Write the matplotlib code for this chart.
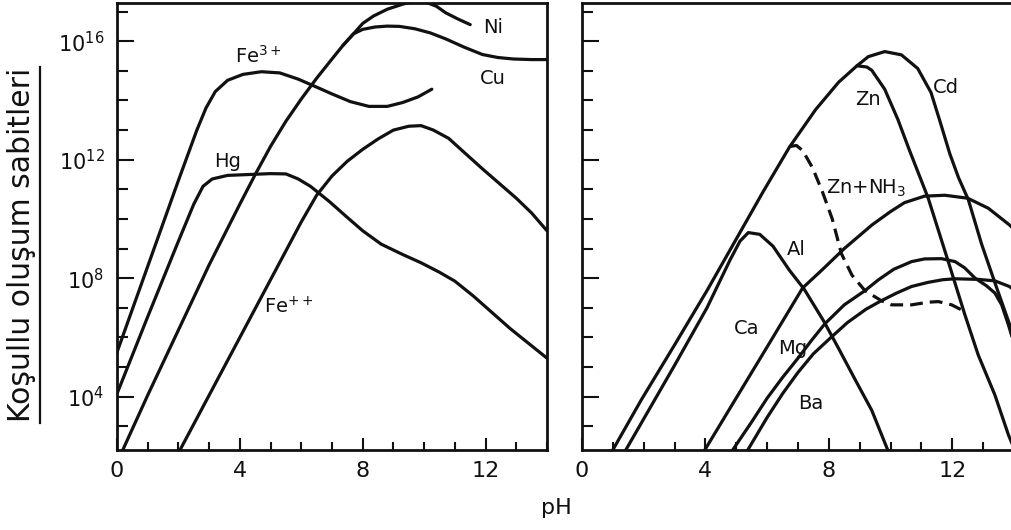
import matplotlib.pyplot as plt
from matplotlib.lines import Line2D
from matplotlib.ticker import FixedLocator, MultipleLocator, NullFormatter, LogFormatterMathtext
import numpy as np

# pH against log10 of the conditional formation constant
# left panel
fe3_ph = [0, 1, 2, 2.6, 2.9, 3.2, 3.6, 4.1, 4.7, 5.3, 5.9, 6.5, 7.0, 7.6, 8.2, 8.8, 9.3, 9.8, 10.25]
fe3_logk = [5.5, 8.4, 11.3, 13.0, 13.75, 14.3, 14.68, 14.88, 14.97, 14.93, 14.72, 14.45, 14.22, 13.96, 13.8, 13.8, 13.93, 14.12, 14.38]

hg_ph = [0, 1, 2, 2.5, 2.8, 3.1, 3.6, 4.3, 5.0, 5.5, 5.9, 6.3, 6.9, 7.5, 8.0, 8.6, 9.3, 9.9, 10.5, 11.0, 11.6, 12.2, 12.8, 13.4, 14.0]
hg_logk = [4.1, 6.7, 9.25, 10.5, 11.1, 11.35, 11.47, 11.5, 11.53, 11.52, 11.35, 11.1, 10.6, 10.05, 9.6, 9.15, 8.8, 8.52, 8.2, 7.9, 7.4, 6.85, 6.3, 5.8, 5.3]

cu_ph = [0.1, 1, 2, 3, 4, 4.5, 5, 5.5, 6, 6.5, 7.0, 7.35, 7.7, 8.0, 8.4, 8.8, 9.2, 9.7, 10.2, 10.7, 11.3, 11.9, 12.4, 12.9, 13.5, 14.0]
cu_logk = [2.0, 4.05, 6.25, 8.45, 10.5, 11.5, 12.45, 13.3, 14.05, 14.75, 15.4, 15.85, 16.25, 16.4, 16.48, 16.51, 16.5, 16.42, 16.28, 16.08, 15.8, 15.55, 15.45, 15.4, 15.38, 15.38]

ni_ph = [7.35, 7.7, 8.0, 8.35, 8.8, 9.3, 9.7, 10.1, 10.4, 10.7, 11.1, 11.5]
ni_logk = [15.85, 16.25, 16.6, 16.85, 17.08, 17.25, 17.35, 17.3, 17.18, 16.96, 16.75, 16.56]

fe2_ph = [2.0, 3, 4, 5, 6, 6.5, 7.0, 7.5, 8.0, 8.5, 9.0, 9.5, 9.9, 10.3, 10.8, 11.3, 11.9, 12.5, 13.0, 13.5, 14.0]
fe2_logk = [2.1, 4.05, 6.0, 7.95, 9.9, 10.8, 11.45, 11.95, 12.35, 12.7, 13.0, 13.13, 13.15, 13.0, 12.72, 12.25, 11.69, 11.15, 10.7, 10.2, 9.6]

# right panel
zn_ph = [0.91, 1.92, 2.99, 4.05, 4.96, 5.87, 6.72, 7.57, 8.32, 8.91, 9.23, 9.39, 9.81, 10.24, 10.6, 11.22, 11.87, 12.41, 12.84, 13.38, 13.82, 14.1]
zn_logk = [2.04, 3.89, 5.73, 7.58, 9.25, 10.92, 12.42, 13.69, 14.62, 15.17, 15.13, 15.02, 14.38, 13.35, 12.35, 10.7, 8.56, 6.76, 5.41, 4.06, 2.71, 2.0]

cd_ph = [8.91, 9.28, 9.81, 10.35, 10.88, 11.31, 11.6, 11.92, 12.2, 12.52, 12.95, 13.38, 13.82, 14.0]
cd_logk = [15.17, 15.48, 15.65, 15.54, 15.08, 14.27, 13.3, 12.2, 11.4, 10.65, 9.15, 7.85, 6.55, 6.0]

znnh3_ph = [6.75, 6.95, 7.15, 7.47, 7.79, 8.11, 8.41, 8.75, 9.17, 9.7, 10.03, 10.68, 11.22, 11.55, 11.98, 12.3, 12.41]
znnh3_logk = [12.45, 12.48, 12.31, 11.73, 10.92, 10.0, 8.82, 8.1, 7.58, 7.24, 7.1, 7.1, 7.19, 7.21, 7.1, 6.93, 6.76]

al_ph = [1.33, 2.99, 4.05, 4.8, 5.12, 5.39, 5.76, 6.19, 6.72, 7.2, 7.84, 8.32, 8.85, 9.39, 9.97]
al_logk = [2.04, 5.04, 7.0, 8.62, 9.25, 9.54, 9.48, 9.08, 8.27, 7.63, 6.54, 5.62, 4.58, 3.54, 2.04]

ca_ph = [3.95, 5.0, 6.0, 7.15, 7.8, 8.5, 9.4, 10.0, 10.45, 11.1, 11.76, 12.5, 13.17, 13.85, 14.0]
ca_logk = [2.15, 3.96, 5.68, 7.67, 8.3, 9.0, 9.8, 10.25, 10.55, 10.77, 10.8, 10.7, 10.36, 9.8, 9.65]

mg_ph = [4.85, 5.5, 6.0, 6.5, 7.0, 7.43, 7.87, 8.5, 9.17, 9.6, 10.1, 10.68, 11.1, 11.65, 12.09, 12.4, 12.74, 13.1, 13.38, 13.6, 13.82, 14.0]
mg_logk = [2.15, 3.15, 3.95, 4.65, 5.3, 5.89, 6.46, 7.1, 7.58, 7.94, 8.3, 8.56, 8.65, 8.66, 8.56, 8.35, 8.0, 7.75, 7.5, 7.1, 6.42, 5.8]

ba_ph = [5.28, 6.0, 6.5, 7.0, 7.5, 8.08, 8.6, 9.2, 9.7, 10.2, 10.68, 11.22, 11.7, 12.09, 12.84, 13.38, 13.85, 14.0]
ba_logk = [2.04, 3.3, 4.1, 4.82, 5.45, 6.01, 6.5, 6.95, 7.24, 7.5, 7.72, 7.86, 7.95, 7.98, 7.96, 7.91, 7.72, 7.6]

left_curves = [(fe3_ph, fe3_logk), (hg_ph, hg_logk), (cu_ph, cu_logk), (ni_ph, ni_logk), (fe2_ph, fe2_logk)]
right_curves = [(zn_ph, zn_logk), (cd_ph, cd_logk), (al_ph, al_logk), (ca_ph, ca_logk), (mg_ph, mg_logk), (ba_ph, ba_logk)]

fig = plt.figure(figsize=(10.11, 5.30), dpi=100)
ax1 = fig.add_axes([117/1011, 80/530, 430/1011, 446.7/530])
ax2 = fig.add_axes([582/1011, 80/530, 432/1011, 446.7/530])


def style(ax, show_labels):
    ax.set_yscale('log')
    ax.set_xlim(0, 14)
    ax.set_ylim(10**2.2, 10**17.28)
    ax.xaxis.set_major_locator(FixedLocator([0, 4, 8, 12]))
    ax.xaxis.set_minor_locator(MultipleLocator(1))
    ax.yaxis.set_major_locator(FixedLocator([1e4, 1e8, 1e12, 1e16]))
    ax.yaxis.set_minor_locator(FixedLocator([10.0**k for k in range(3, 18)]))
    ax.yaxis.set_minor_formatter(NullFormatter())
    if show_labels:
        ax.yaxis.set_major_formatter(LogFormatterMathtext())
    else:
        ax.yaxis.set_major_formatter(NullFormatter())
    ax.tick_params(axis='both', which='both', direction='in', width=1.5, colors='#111111')
    ax.tick_params(axis='y', which='major', length=12, pad=9, labelsize=15)
    ax.tick_params(axis='y', which='minor', length=8)
    ax.tick_params(axis='x', which='major', length=9, pad=8, labelsize=16)
    ax.tick_params(axis='x', which='minor', length=6)
    for s in ax.spines.values():
        s.set_linewidth(2)
        s.set_color('#111111')


style(ax1, True)
style(ax2, False)

for ph, lk in left_curves:
    ax1.plot(ph, 10.0**np.array(lk), color='#111111', lw=2.3, solid_capstyle='round')
for ph, lk in right_curves:
    ax2.plot(ph, 10.0**np.array(lk), color='#111111', lw=2.3, solid_capstyle='round')
ax2.plot(znnh3_ph, 10.0**np.array(znnh3_logk), color='#111111', lw=2.3, dashes=(4, 2.2))

lbl = dict(fontsize=14, ha='center', va='center', color='#111111')
ax1.text(12.25, 10**16.45, 'Ni', **lbl)
ax1.text(12.25, 10**14.75, 'Cu', **lbl)
ax1.text(4.6, 10**15.5, r'Fe$^{3+}$', **lbl)
ax1.text(3.6, 10**11.95, 'Hg', **lbl)
ax1.text(5.6, 10**7.05, r'Fe$^{++}$', **lbl)

ax2.text(9.28, 10**14.04, 'Zn', **lbl)
ax2.text(11.8, 10**14.44, 'Cd', **lbl)
ax2.text(9.2, 10**11.04, r'Zn+NH$_3$', **lbl)
ax2.text(6.93, 10**8.96, 'Al', **lbl)
ax2.text(5.33, 10**6.31, 'Ca', **lbl)
ax2.text(6.83, 10**5.62, 'Mg', **lbl)
ax2.text(7.41, 10**3.77, 'Ba', **lbl)

fig.text(556/1011, 1 - 508/530, 'pH', fontsize=16, ha='center', va='center', color='#111111')
fig.text(22/1011, 1 - 245/530, 'Koşullu oluşum sabitleri', rotation=90, fontsize=21.5,
         ha='center', va='center', color='#111111')
fig.add_artist(Line2D([40/1011, 40/1011], [1 - 423/530, 1 - 67/530], color='#111111', lw=1.6))

fig.savefig('out.png', dpi=100)
